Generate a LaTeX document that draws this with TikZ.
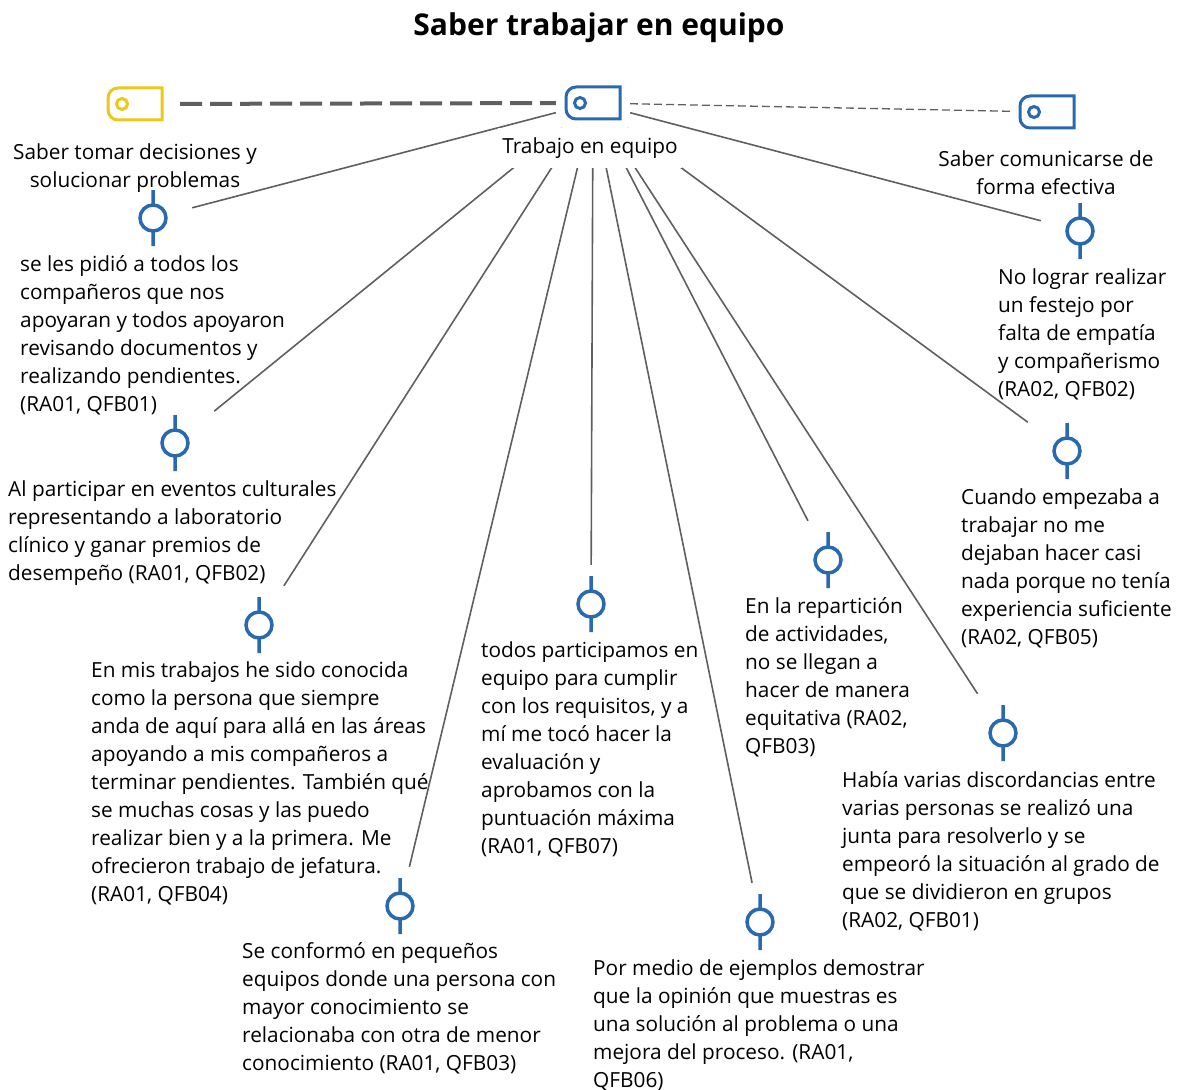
\documentclass[tikz,border=0pt]{standalone}
\usepackage{fontspec}
\setmainfont{Open Sans}
\definecolor{codeblue}{RGB}{41,105,176}
\definecolor{codeyellow}{RGB}{236,200,28}
\definecolor{linkgray}{RGB}{95,95,95}
\tikzstyle{txt}=[anchor=north west,inner sep=0,align=left,font=\fontsize{20.8}{28}\selectfont]
\tikzstyle{lbl}=[inner sep=0,align=center,font=\fontsize{20.8}{28}\selectfont]
\tikzstyle{codebox}=[rectangle,minimum width=74,minimum height=50,inner sep=0]
\tikzstyle{qbox}=[rectangle,minimum size=78,inner sep=0]
\tikzstyle{link}=[draw=linkgray,line width=1.6]
\tikzstyle{strong}=[draw=linkgray,line width=4,dash pattern=on 22pt off 8pt]
\tikzstyle{weak}=[draw=linkgray,line width=1.3,dash pattern=on 8pt off 4pt]
\tikzset{
  tag/.pic={
    \draw[line width=3] (27,-16) -- (-17,-16) arc[start angle=270,end angle=180,radius=10]
      -- (-27,6) arc[start angle=180,end angle=90,radius=10] -- (27,16) -- cycle;
    \draw[line width=3] (-13,0) circle[radius=5.5];
  },
  qicon/.pic={
    \draw[codeblue,line width=3.5] (0,0) circle[radius=13] (0,-13) -- (0,-28) (0,13) -- (0,28);
  }
}
\begin{document}
\begin{tikzpicture}[x=1pt,y=-1pt]
  \useasboundingbox (0,0) rectangle (1177,1089);
  \node[font=\fontsize{30}{34}\selectfont\bfseries] (title) at (599,28) {Saber trabajar en equipo};

  % codes
  \pic[codeblue] at (593,103) {tag};
  \node[codebox] (hub) at (593,103) {};
  \pic[codeyellow] at (135,104) {tag};
  \node[codebox,minimum width=90] (dec) at (135,104) {}
    edge [strong] (hub);
  \pic[codeblue] at (1047,112) {tag};
  \node[codebox] (com) at (1047,112) {}
    edge [weak] (hub);

  % quotations
  \foreach \n/\x/\y in {q1/153/218,q2/175/443,q3/259/625,q4/400/906,q5/591/604,
                        q6/760/922,q7/828/560,q8/1003/733,q9/1067/451,q10/1080/231}{
    \pic at (\x,\y) {qicon};
    \node[qbox] (\n) at (\x,\y) {}
      edge [link] (hub);
  }

  \node[lbl,fill=white,inner xsep=4,minimum height=40] (hublbl) at (590,148) {Trabajo en equipo};
  \node[lbl] (declbl) at (135,168) {Saber tomar decisiones y\\solucionar problemas};
  \node[lbl] (comlbl) at (1046,173) {Saber comunicarse de\\forma efectiva};

  \node[txt] (t1) at (20,255) {se les pidió a todos los\\compañeros que nos\\apoyaran y todos apoyaron\\revisando documentos y\\realizando pendientes.\\(RA01, QFB01)};
  \node[txt] (t2) at (8,480) {Al participar en eventos culturales\\representando a laboratorio\\clínico y ganar premios de\\desempeño (RA01, QFB02)};
  \node[txt] (t3) at (91,661) {En mis trabajos he sido conocida\\como la persona que siempre\\anda de aquí para allá en las áreas\\apoyando a mis compañeros a\\terminar pendientes. También qué\\se muchas cosas y las puedo\\realizar bien y a la primera. Me\\ofrecieron trabajo de jefatura.\\(RA01, QFB04)};
  \node[txt] (t4) at (242,942) {Se conformó en pequeños\\equipos donde una persona con\\mayor conocimiento se\\relacionaba con otra de menor\\conocimiento (RA01, QFB03)};
  \node[txt] (t5) at (481,641) {todos participamos en\\equipo para cumplir\\con los requisitos, y a\\mí me tocó hacer la\\evaluación y\\aprobamos con la\\puntuación máxima\\(RA01, QFB07)};
  \node[txt] (t6) at (593,959) {Por medio de ejemplos demostrar\\que la opinión que muestras es\\una solución al problema o una\\mejora del proceso. (RA01,\\QFB06)};
  \node[txt] (t7) at (745,597) {En la repartición\\de actividades,\\no se llegan a\\hacer de manera\\equitativa (RA02,\\QFB03)};
  \node[txt] (t8) at (842,771) {Había varias discordancias entre\\varias personas se realizó una\\junta para resolverlo y se\\empeoró la situación al grado de\\que se dividieron en grupos\\(RA02, QFB01)};
  \node[txt] (t9) at (961,488) {Cuando empezaba a\\trabajar no me\\dejaban hacer casi\\nada porque no tenía\\experiencia suficiente\\(RA02, QFB05)};
  \node[txt] (t10) at (998,268) {No lograr realizar\\un festejo por\\falta de empatía\\y compañerismo\\(RA02, QFB02)};
\end{tikzpicture}
\end{document}
